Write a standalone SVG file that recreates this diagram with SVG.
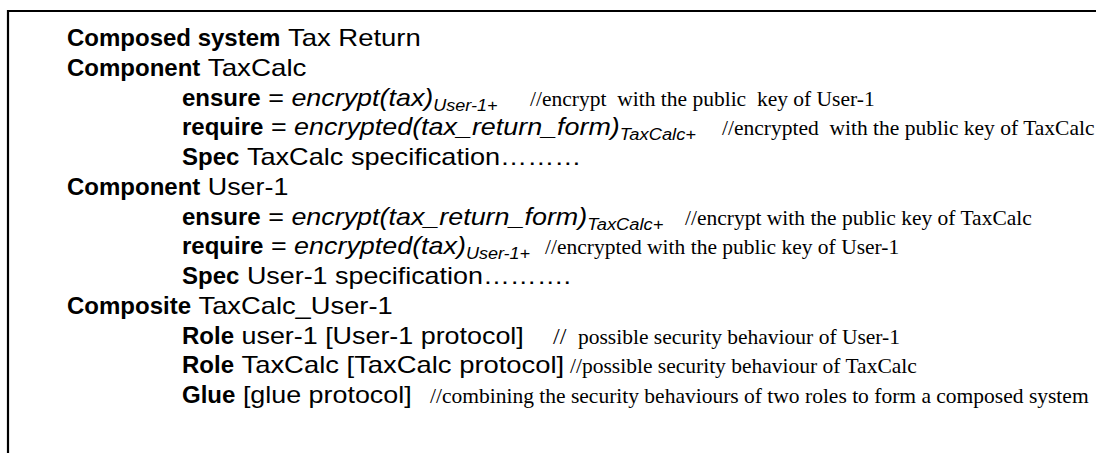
<svg xmlns="http://www.w3.org/2000/svg" width="1096" height="453" viewBox="0 0 1096 453">
  <style>
    text { fill: #000; }
    .kw { font-family: "Liberation Sans", Arial, sans-serif; font-size: 24px; font-weight: bold; }
    .rg { font-family: "Liberation Sans", Arial, sans-serif; font-size: 24px; }
    .it { font-family: "Liberation Sans", Arial, sans-serif; font-size: 24px; font-style: italic; }
    .sub { font-family: "Liberation Sans", Arial, sans-serif; font-size: 16px; font-style: italic; }
    .cmt { font-family: "Liberation Serif", "Times New Roman", serif; font-size: 21.5px; white-space: pre; }
  </style>
  <rect width="1096" height="453" fill="#fff"/>
  <!-- frame: only top and left edges are visible -->
  <g id="frame" stroke="#000" stroke-width="2.2" fill="none">
    <line x1="7" y1="11" x2="1096" y2="11"/>
    <line x1="8" y1="10" x2="8" y2="453"/>
  </g>

  <g id="composed-system">
    <text class="kw" x="67" y="46">Composed system</text>
    <text class="rg" x="287.9" y="46" textLength="132.9" lengthAdjust="spacingAndGlyphs">Tax Return</text>
  </g>

  <g id="component-taxcalc">
    <text class="kw" x="67" y="76">Component</text>
    <text class="rg" x="207.8" y="76" textLength="98.6" lengthAdjust="spacingAndGlyphs">TaxCalc</text>

    <text class="kw" x="182" y="105.5">ensure</text>
    <text class="rg" x="268.2" y="105.5" textLength="15.7" lengthAdjust="spacingAndGlyphs">=</text>
    <text class="it" x="291.4" y="105.5" textLength="141.9" lengthAdjust="spacingAndGlyphs">encrypt(tax)</text>
    <text class="sub" x="433.3" y="110.5" textLength="64.2" lengthAdjust="spacingAndGlyphs">User-1+</text>
    <text class="cmt" x="530" y="105.5">//encrypt  with the public  key of User-1</text>

    <text class="kw" x="182" y="135">require</text>
    <text class="rg" x="270.9" y="135" textLength="15.7" lengthAdjust="spacingAndGlyphs">=</text>
    <text class="it" x="294.1" y="135" textLength="325.7" lengthAdjust="spacingAndGlyphs">encrypted(tax_return_form)</text>
    <text class="sub" x="619.8" y="140" textLength="76.2" lengthAdjust="spacingAndGlyphs">TaxCalc+</text>
    <text class="cmt" x="722" y="135">//encrypted  with the public key of TaxCalc</text>

    <text class="kw" x="182" y="165">Spec</text>
    <text class="rg" x="246.9" y="165" textLength="334.6" lengthAdjust="spacingAndGlyphs">TaxCalc specification………</text>
  </g>

  <g id="component-user-1">
    <text class="kw" x="67" y="195">Component</text>
    <text class="rg" x="207.8" y="195" textLength="80.6" lengthAdjust="spacingAndGlyphs">User-1</text>

    <text class="kw" x="182" y="224.5">ensure</text>
    <text class="rg" x="268.2" y="224.5" textLength="15.7" lengthAdjust="spacingAndGlyphs">=</text>
    <text class="it" x="291.4" y="224.5" textLength="295.8" lengthAdjust="spacingAndGlyphs">encrypt(tax_return_form)</text>
    <text class="sub" x="587.2" y="229.5" textLength="76.2" lengthAdjust="spacingAndGlyphs">TaxCalc+</text>
    <text class="cmt" x="685" y="224.5">//encrypt with the public key of TaxCalc</text>

    <text class="kw" x="182" y="254">require</text>
    <text class="rg" x="270.9" y="254" textLength="15.7" lengthAdjust="spacingAndGlyphs">=</text>
    <text class="it" x="294.1" y="254" textLength="171.8" lengthAdjust="spacingAndGlyphs">encrypted(tax)</text>
    <text class="sub" x="465.9" y="259" textLength="64.2" lengthAdjust="spacingAndGlyphs">User-1+</text>
    <text class="cmt" x="545" y="254">//encrypted with the public key of User-1</text>

    <text class="kw" x="182" y="284">Spec</text>
    <text class="rg" x="246.9" y="284" textLength="324.1" lengthAdjust="spacingAndGlyphs">User-1 specification……….</text>
  </g>

  <g id="composite">
    <text class="kw" x="67" y="314">Composite</text>
    <text class="rg" x="198.5" y="314" textLength="194.2" lengthAdjust="spacingAndGlyphs">TaxCalc_User-1</text>

    <text class="kw" x="182" y="343.5">Role</text>
    <text class="rg" x="241.5" y="343.5" textLength="282.3" lengthAdjust="spacingAndGlyphs">user-1 [User-1 protocol]</text>
    <text class="cmt" x="553" y="343.5" style="font-size:24px">//</text>
    <text class="cmt" x="578" y="343.5">possible security behaviour of User-1</text>

    <text class="kw" x="182" y="373">Role</text>
    <text class="rg" x="241.5" y="373" textLength="322.7" lengthAdjust="spacingAndGlyphs">TaxCalc [TaxCalc protocol]</text>
    <text class="cmt" x="570" y="373">//possible security behaviour of TaxCalc</text>

    <text class="kw" x="182" y="403">Glue</text>
    <text class="rg" x="242.9" y="403" textLength="168.8" lengthAdjust="spacingAndGlyphs">[glue protocol]</text>
    <text class="cmt" x="430" y="403">//combining the security behaviours of two roles to form a composed system</text>
  </g>
</svg>
